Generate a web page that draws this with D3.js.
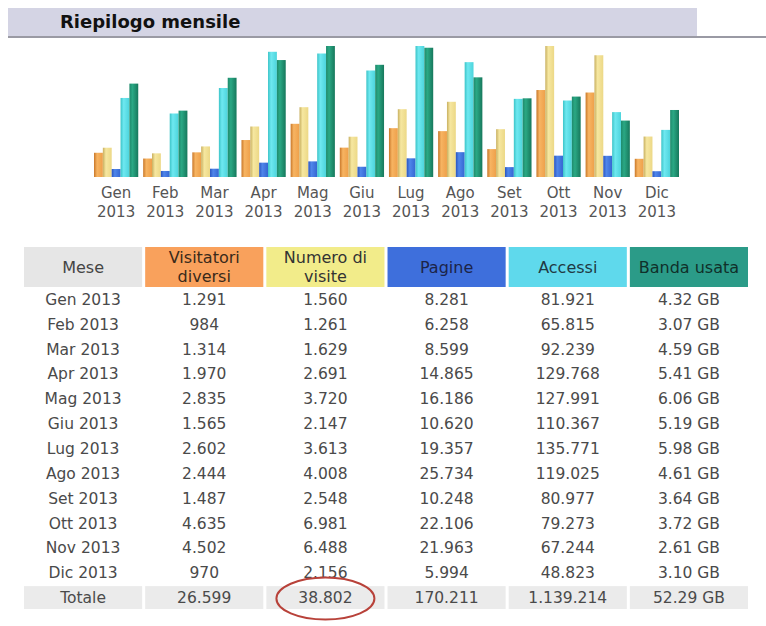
<!DOCTYPE html>
<html>
<head>
<meta charset="utf-8">
<script src="https://cdn.jsdelivr.net/npm/d3@7"></script>
<style>
  body { margin: 0; background: #fff; }
  svg { display: block; font-family: "DejaVu Sans", Verdana, sans-serif; }
</style>
</head>
<body>
<svg id="chart"></svg>
<script>
const months = ["Gen", "Feb", "Mar", "Apr", "Mag", "Giu", "Lug", "Ago", "Set", "Ott", "Nov", "Dic"];
const year = "2013";
const visitors = [1291, 984, 1314, 1970, 2835, 1565, 2602, 2444, 1487, 4635, 4502, 970];
const visits = [1560, 1261, 1629, 2691, 3720, 2147, 3613, 4008, 2548, 6981, 6488, 2156];
const pages = [8281, 6258, 8599, 14865, 16186, 10620, 19357, 25734, 10248, 22106, 21963, 5994];
const hits = [81921, 65815, 92239, 129768, 127991, 110367, 135771, 119025, 80977, 79273, 67244, 48823];
const bandwidthGB = [4.32, 3.07, 4.59, 5.41, 6.06, 5.19, 5.98, 4.61, 3.64, 3.72, 2.61, 3.10];
const totals = ["26.599", "38.802", "170.211", "1.139.214", "52.29 GB"];

const columns = [
  {key: "mese", label: ["Mese"], bg: "#e6e6e6", fg: "#444"},
  {key: "visitors", label: ["Visitatori", "diversi"], bg: "#f9a15c", fg: "#3a2a1a"},
  {key: "visits", label: ["Numero di", "visite"], bg: "#f2ec8a", fg: "#333"},
  {key: "pages", label: ["Pagine"], bg: "#3e6fdc", fg: "#1c2448"},
  {key: "hits", label: ["Accessi"], bg: "#5fd9ec", fg: "#1f3a44"},
  {key: "bandwidth", label: ["Banda usata"], bg: "#2b9b88", fg: "#10302a"}
];

const width = 766, height = 626;
const svg = d3.select("#chart").attr("width", width).attr("height", height);

// title bar
svg.append("rect").attr("x", 8).attr("y", 8).attr("width", 689).attr("height", 28).attr("fill", "#d4d4e4");
svg.append("rect").attr("x", 8).attr("y", 36).attr("width", 758).attr("height", 2).attr("fill", "#9a9aa4");
svg.append("text")
  .attr("x", 60).attr("y", 28)
  .attr("font-size", "18px").attr("font-weight", "bold").attr("fill", "#111")
  .text("Riepilogo mensile");

// bar chart
const series = [
  {name: "visitors", values: visitors, c0: "#c9782a", c1: "#f7b462", c2: "#eea04a"},
  {name: "visits", values: visits, c0: "#c8b060", c1: "#f6e7a0", c2: "#ecd886"},
  {name: "pages", values: pages, c0: "#2a55c0", c1: "#4f86ea", c2: "#3566d2"},
  {name: "hits", values: hits, c0: "#3cc4c8", c1: "#6ee8f0", c2: "#4cd4dc"},
  {name: "bandwidth", values: bandwidthGB, c0: "#1f8a6c", c1: "#2aa884", c2: "#17785c"}
];

const baseY = 177, topY = 46;
const yVisits = d3.scaleLinear().domain([0, d3.max(visits)]).range([baseY, topY]);
const yHits = d3.scaleLinear().domain([0, d3.max(hits)]).range([baseY, topY]);
const yBand = d3.scaleLinear().domain([0, d3.max(bandwidthGB)]).range([baseY, topY]);
const yFor = {visitors: yVisits, visits: yVisits, pages: yHits, hits: yHits, bandwidth: yBand};

const x = d3.scaleBand().domain(months).range([94, 679]).paddingInner(0.1);
const xs = d3.scaleBand().domain(series.map((s) => s.name)).range([0, x.bandwidth()]);

const defs = svg.append("defs");
series.forEach((s) => {
  const g = defs.append("linearGradient").attr("id", "grad-" + s.name).attr("x1", "0").attr("x2", "1").attr("y1", "0").attr("y2", "0");
  g.append("stop").attr("offset", "0").attr("stop-color", s.c0);
  g.append("stop").attr("offset", "0.35").attr("stop-color", s.c1);
  g.append("stop").attr("offset", "1").attr("stop-color", s.c2);
});

const groups = svg.selectAll(".month").data(months).enter().append("g")
  .attr("class", "month")
  .attr("transform", (d) => `translate(${x(d)},0)`);

groups.selectAll("rect")
  .data((d, i) => series.map((s) => ({name: s.name, value: s.values[i]})))
  .enter().append("rect")
  .attr("x", (d) => xs(d.name))
  .attr("y", (d) => yFor[d.name](d.value))
  .attr("width", xs.bandwidth())
  .attr("height", (d) => baseY - yFor[d.name](d.value))
  .attr("fill", (d) => `url(#grad-${d.name})`);

groups.append("text")
  .attr("x", x.bandwidth() / 2).attr("y", 198)
  .attr("text-anchor", "middle").attr("font-size", "15px").attr("fill", "#555")
  .text((d) => d);
groups.append("text")
  .attr("x", x.bandwidth() / 2).attr("y", 217)
  .attr("text-anchor", "middle").attr("font-size", "15px").attr("fill", "#555")
  .text(year);

// table
const it = d3.formatLocale({decimal: ",", thousands: ".", grouping: [3], currency: ["", ""]});
const fmt = it.format(",d");

const cx = d3.scaleBand().domain(columns.map((c) => c.key)).range([24, 748]).paddingInner(0.025);
const rowKeys = months.concat(["Totale"]);
const ry = d3.scaleBand().domain(rowKeys).range([288, 609]).paddingInner(0.08);

const header = svg.append("g");
columns.forEach((c) => {
  header.append("rect")
    .attr("x", cx(c.key)).attr("y", 247)
    .attr("width", cx.bandwidth()).attr("height", 40)
    .attr("fill", c.bg);
  const t = header.append("text")
    .attr("x", cx(c.key) + cx.bandwidth() / 2)
    .attr("text-anchor", "middle").attr("font-size", "16px").attr("fill", c.fg);
  if (c.label.length === 1) {
    t.attr("y", 273).text(c.label[0]);
  } else {
    t.attr("y", 263).text(c.label[0]);
    header.append("text")
      .attr("x", cx(c.key) + cx.bandwidth() / 2).attr("y", 282)
      .attr("text-anchor", "middle").attr("font-size", "16px").attr("fill", c.fg)
      .text(c.label[1]);
  }
});

const rows = months.map((m, i) => [
  m + " " + year,
  fmt(visitors[i]),
  fmt(visits[i]),
  fmt(pages[i]),
  fmt(hits[i]),
  bandwidthGB[i].toFixed(2) + " GB"
]);
rows.push(["Totale"].concat(totals));

columns.forEach((c) => {
  svg.append("rect")
    .attr("x", cx(c.key)).attr("y", ry("Totale"))
    .attr("width", cx.bandwidth()).attr("height", ry.bandwidth())
    .attr("fill", "#ebebeb");
});

rows.forEach((r, i) => {
  r.forEach((val, j) => {
    svg.append("text")
      .attr("x", cx(columns[j].key) + cx.bandwidth() / 2)
      .attr("y", ry(rowKeys[i]) + ry.bandwidth() / 2 + 5.5)
      .attr("text-anchor", "middle").attr("font-size", "15.5px").attr("fill", "#4a4a4a")
      .text(val);
  });
});

// highlight around total visits
svg.append("ellipse")
  .attr("cx", cx("visits") + cx.bandwidth() / 2)
  .attr("cy", ry("Totale") + ry.bandwidth() / 2 + 1)
  .attr("rx", 49).attr("ry", 21)
  .attr("fill", "none").attr("stroke", "#b8423a").attr("stroke-width", 2);
</script>
</body>
</html>
